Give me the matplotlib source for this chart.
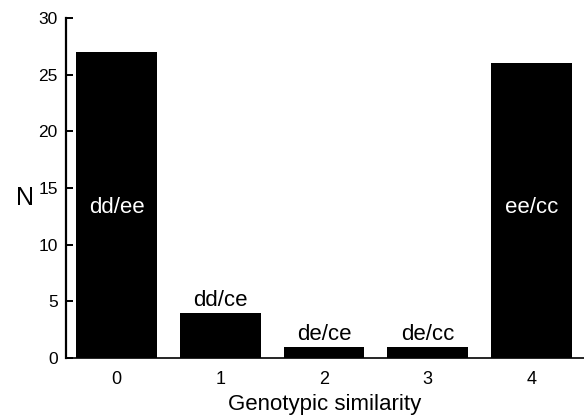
import numpy as np
import matplotlib
matplotlib.use('Agg')
import matplotlib.pyplot as plt

plt.rcParams['font.family'] = ['Liberation Sans', 'DejaVu Sans']

# data
similarity = [0, 1, 2, 3, 4]
counts = [27, 4, 1, 1, 26]
genotypes = ['dd/ee', 'dd/ce', 'de/ce', 'de/cc', 'ee/cc']
inside = [True, False, False, False, True]

fig = plt.figure(figsize=(5.84, 4.17), dpi=100)
ax = fig.add_axes([66 / 584, 59 / 417, 518 / 584, 340 / 417])

ax.bar(similarity, counts, width=0.78, color='black')

# genotype labels: white inside tall bars, black above short ones
for x, n, lab, ins in zip(similarity, counts, genotypes, inside):
  if ins:
    ax.text(x, 12.8, lab, color='white', ha='center', va='baseline', fontsize=16)
  else:
    ax.text(x, n + 0.55, lab, color='black', ha='center', va='baseline', fontsize=16)

ax.set_xlim(-0.487, 4.506)
ax.set_ylim(0, 30)
ax.set_yticks(np.arange(0, 31, 5))
ax.set_xticks(similarity)

ax.spines['top'].set_visible(False)
ax.spines['right'].set_visible(False)
ax.spines['left'].set_linewidth(1.6)
ax.spines['bottom'].set_linewidth(1.2)

ax.tick_params(axis='y', direction='in', length=5, width=1.4, pad=6, labelsize=12.5)
ax.tick_params(axis='x', length=0, pad=9, labelsize=13)

ax.set_xlabel('Genotypic similarity', fontsize=16, va='center')
ax.xaxis.set_label_coords(0.499, -0.138)
ax.set_ylabel('N', rotation=0, fontsize=18, va='center', ha='center')
ax.yaxis.set_label_coords(-0.079, 0.47)

fig.savefig('out.png', dpi=100)
